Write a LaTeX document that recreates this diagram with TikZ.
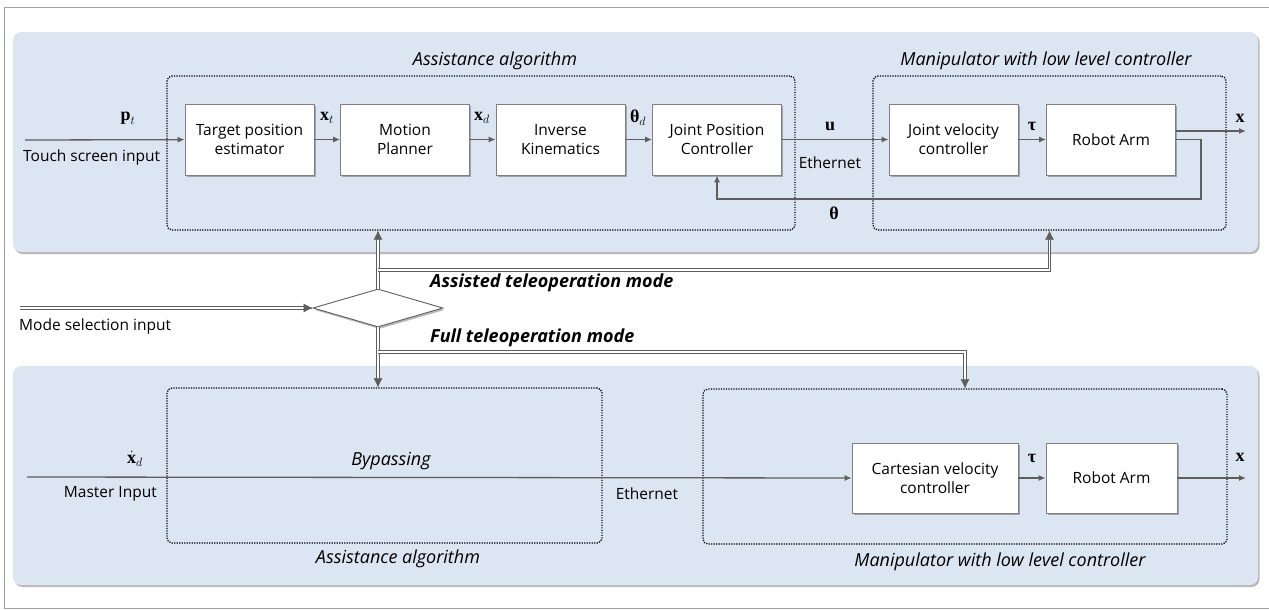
\documentclass[tikz,border=0pt]{standalone}
\usepackage{amsmath, amssymb}
\usepackage[no-math]{fontspec}
\setmainfont{Open Sans}
\newfontfamily\symfont{Liberation Serif}
\usepackage{tikz}
\usetikzlibrary{arrows.meta, calc, positioning, shapes.geometric, shadows}
\definecolor{pnlblue}{HTML}{DCE6F2}
\definecolor{wireg}{HTML}{5E5E5E}
\definecolor{boxg}{HTML}{808080}
\definecolor{frameg}{HTML}{A0A0A0}
\newcommand{\txtsz}{\fontsize{15.5}{19}\selectfont}
\newcommand{\bsym}[1]{\text{\symfont\bfseries #1}}
\tikzset{
  softshadow/.style = {drop shadow={shadow xshift=1.5pt, shadow yshift=-2pt,
                       fill=black, opacity=0.28}},
  panel/.style  = {fill=pnlblue, rounded corners=8pt, softshadow},
  blk/.style    = {draw=boxg, fill=white, line width=0.8pt, minimum width=129pt,
                   minimum height=71pt, align=center, font=\txtsz, inner sep=2pt,
                   softshadow},
  grp/.style    = {draw=black, dash pattern=on 1.2pt off 1.3pt, line width=1.3pt,
                   rounded corners=5pt, inner sep=0pt},
  selbox/.style = {diamond, draw=wireg, fill=white, line width=0.9pt,
                   minimum width=130pt, minimum height=38pt, inner sep=0pt,
                   softshadow},
  sig/.style    = {draw=wireg, line width=1.3pt, -{Latex[length=7pt, width=6pt]}},
  dbl/.style    = {draw=wireg, line width=0.9pt, double=white, double distance=1.8pt,
                   shorten >=8pt},
  tipar/.style  = {draw=wireg, line width=0.5pt, -{Latex[length=9pt, width=9pt]}},
  lbl/.style    = {font=\txtsz, inner sep=1pt},
  grplab/.style = {font=\fontsize{18}{21}\selectfont\itshape, inner sep=1pt},
  modelab/.style= {font=\fontsize{18}{21}\selectfont\bfseries\itshape, inner sep=1pt,
                   anchor=west},
  sym/.style    = {font=\fontsize{18}{21}\selectfont, inner sep=1pt},
}

\begin{document}
\begin{tikzpicture}[x=1pt, y=-1pt, line cap=butt, line join=miter]
  \useasboundingbox (0,0) rectangle (1269,610);
  \draw[frameg, line width=1pt] (1269,8) -- (4,8) -- (4,608) -- (1269,608);

  % panels
  \fill[panel] (13,32) rectangle (1258,252);
  \fill[panel] (13,366) rectangle (1258,585);

  % dotted groups
  \node[grp, minimum width=628pt, minimum height=154pt] (asstop) at (481,153) {};
  \node[grp, minimum width=353pt, minimum height=154pt] (manitop) at (1049.5,153) {};
  \node[grp, minimum width=435pt, minimum height=155pt] (assbot) at (384.5,465.5) {};
  \node[grp, minimum width=524pt, minimum height=155pt] (manibot) at (965,466.5) {};
  \node[grplab] (asstoplab) at (495,61) {Assistance algorithm};
  \node[grplab] (manitoplab) at (1046,61) {Manipulator with low level controller};
  \node[grplab] (assbotlab) at (398,559) {Assistance algorithm};
  \node[grplab] (manibotlab) at (1000,562) {Manipulator with low level controller};

  % assisted loop
  \node[blk] (tpe) at (249.5,139.5) {Target position\\estimator};
  \node[blk] (mp) at (405,139.5) {Motion\\Planner};
  \node[blk] (ik) at (560.5,139.5) {Inverse\\Kinematics};
  \node[blk] (jpc) at (717,139.5) {Joint Position\\Controller};
  \node[blk] (jvc) at (953.5,139.5) {Joint velocity\\controller};
  \node[blk] (arm) at (1111,139.5) {Robot Arm};
  \coordinate (tin) at (25,140);
  \coordinate (xout) at (1246,131);
  \coordinate (fb) at (1201,199);
  \draw[sig] (tin) -- (tpe);
  \draw[sig] (tpe) -- (mp);
  \draw[sig] (mp) -- (ik);
  \draw[sig] (ik) -- (jpc);
  \draw[sig] (jpc) -- (jvc);
  \draw[sig] (jvc) -- (arm);
  \draw[sig] (arm.east |- xout) -- (xout);
  \draw[sig] (arm.east) -| (fb) -| (jpc.south);
  \node[sym] (ptlab) at (128,118) {$\bsym{p}_t$};
  \node[lbl, anchor=west] (tinlab) at (22,157) {Touch screen input};
  \node[sym] (xtlab) at (327,118) {$\bsym{x}_t$};
  \node[sym] (xdlab) at (482,118) {$\bsym{x}_d$};
  \node[sym] (thdlab) at (638,118) {$\bsym{θ}_d$};
  \node[sym] (ulab) at (830,126) {$\bsym{u}$};
  \node[lbl] (ethtop) at (830,163) {Ethernet};
  \node[sym] (taulab) at (1032,126) {$\bsym{τ}$};
  \node[sym] (xlab) at (1240,118) {$\bsym{x}$};
  \node[sym] (thlab) at (834,213) {$\bsym{θ}$};

  % mode selection
  \node[selbox] (sel) at (378,308) {};
  \coordinate (min) at (20,308);
  \coordinate (asjn) at (378,270);
  \coordinate (fujn) at (378,352);
  \coordinate (upa) at (sel.north |- asstop.south);
  \coordinate (upm) at (manitop.south);
  \coordinate (dna) at (sel.south |- assbot.north);
  \coordinate (dnm) at (manibot.north);
  \draw[dbl] (min) -- (sel.west);
  \draw[dbl] (sel.north) -- (upa);
  \draw[dbl] (asjn) -| (upm);
  \draw[dbl] (sel.south) -- (dna);
  \draw[dbl] (fujn) -| (dnm);
  \draw[tipar] ($(sel.west)+(-1,0)$) -- (sel.west);
  \draw[tipar] ($(upa)+(0,1)$) -- (upa);
  \draw[tipar] ($(upm)+(0,1)$) -- (upm);
  \draw[tipar] ($(dna)+(0,-1)$) -- (dna);
  \draw[tipar] ($(dnm)+(0,-1)$) -- (dnm);
  \node[lbl, anchor=west] (minlab) at (18,326) {Mode selection input};
  \node[modelab] (asmode) at (429,283) {Assisted teleoperation mode};
  \node[modelab] (fumode) at (429,338) {Full teleoperation mode};

  % full teleoperation
  \node[blk, minimum width=166pt, minimum height=70pt] (cvc) at (935,478) {Cartesian velocity\\controller};
  \node[blk, minimum width=131pt, minimum height=70pt] (arm2) at (1111.5,478) {Robot Arm};
  \coordinate (bin) at (27,477);
  \coordinate (xout2) at (1246,478);
  \draw[sig] (bin) -- (cvc.west);
  \draw[sig] (cvc) -- (arm2);
  \draw[sig] (arm2) -- (xout2);
  \node[sym] (xddlab) at (135,459) {$\dot{\bsym{x}}_d$};
  \node[lbl, anchor=east] (binlab) at (158,494) {Master Input};
  \node[grplab] (bypass) at (391,461) {Bypassing};
  \node[lbl] (ethbot) at (647,494) {Ethernet};
  \node[sym] (tau2lab) at (1032,458) {$\bsym{τ}$};
  \node[sym] (x2lab) at (1240,457) {$\bsym{x}$};
\end{tikzpicture}
\end{document}
